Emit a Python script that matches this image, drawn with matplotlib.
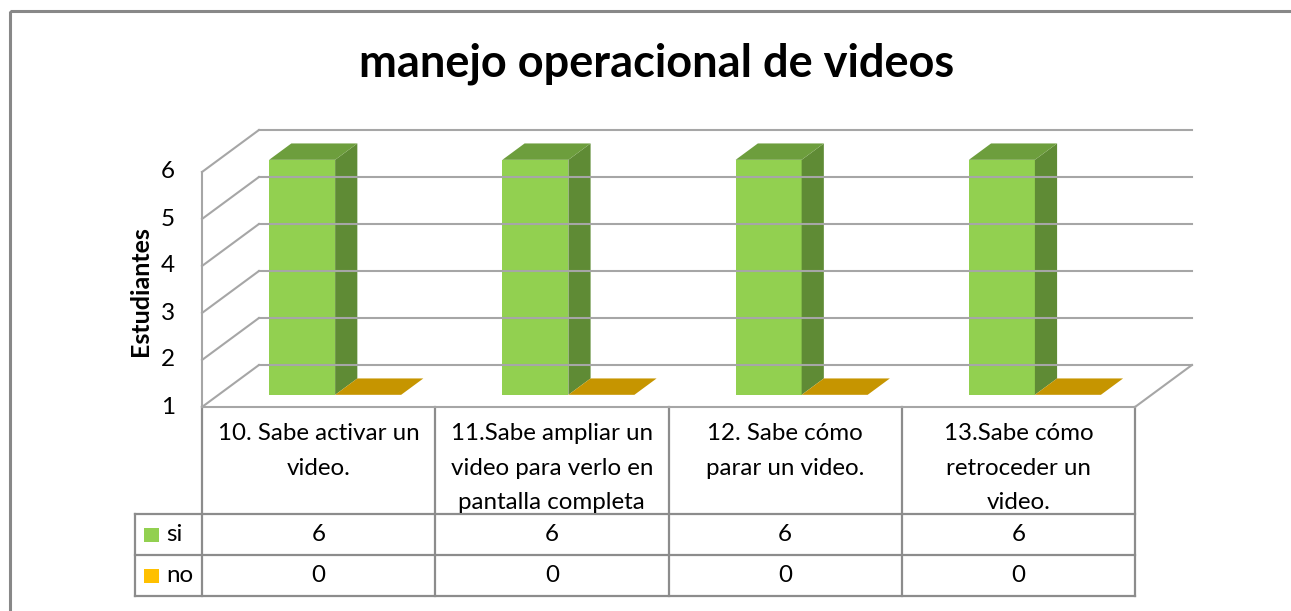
import numpy as np
import matplotlib.pyplot as plt
from matplotlib.patches import Polygon, Rectangle

# data
categories = ["10. Sabe activar un\nvideo.",
              "11.Sabe ampliar un\nvideo para verlo en\npantalla completa",
              "12. Sabe cómo\nparar un video.",
              "13.Sabe cómo\nretroceder un\nvideo."]
series = ["si", "no"]
si_vals = [6, 6, 6, 6]
no_vals = [0, 0, 0, 0]
yticks = [1, 2, 3, 4, 5, 6]

plt.rcParams['font.family'] = ['Lato', 'DejaVu Sans']

W_PX, H_PX = 1291, 611
fig = plt.figure(figsize=(W_PX/100, H_PX/100), dpi=100)
fig.patch.set_facecolor('white')

# overlay in pixel coords for frame / table
bg = fig.add_axes([0, 0, 1, 1])
bg.set_xlim(0, W_PX)
bg.set_ylim(H_PX, 0)
bg.axis('off')

# plot area (front plane) in data coords
x_l, x_r, y_t, y_b = 202, 1135, 172, 407
ax = fig.add_axes([x_l/W_PX, 1 - y_b/H_PX, (x_r-x_l)/W_PX, (y_b-y_t)/H_PX])
ax.set_xlim(0, len(categories))
ax.set_ylim(yticks[0], yticks[-1])
ax.axis('off')
ax.patch.set_alpha(0)

ymin = yticks[0]
DX = 57/233.5    # depth offset (category units)
DY = 42/47       # depth offset (value units)
grid_c = '#A6A6A6'

def P(x, v, d):
    return (x + d*DX, v + d*DY)

ncat = len(categories)
# back wall gridlines and left wall diagonals
for v in yticks:
    a, b = P(0, v, 1), P(ncat, v, 1)
    ax.plot([a[0], b[0]], [a[1], b[1]], color=grid_c, lw=1.5, clip_on=False)
    c = P(0, v, 0)
    ax.plot([c[0], a[0]], [c[1], a[1]], color=grid_c, lw=1.5, clip_on=False)
# left wall front edge, floor
ax.plot([0, 0], [ymin, yticks[-1]], color=grid_c, lw=1.5, clip_on=False)
f1, f2 = P(ncat, ymin, 0), P(ncat, ymin, 1)
ax.plot([0, ncat], [ymin, ymin], color=grid_c, lw=1.5, clip_on=False)
ax.plot([f1[0], f2[0]], [f1[1], f2[1]], color=grid_c, lw=1.5, clip_on=False)

# bars
W = 0.283
z0, z1 = 0.29, 0.68
faces = {"si": ('#92D050', '#5F8B35', '#6D9E3D'),
         "no": ('#FFC000', '#B08400', '#C69500')}
for i in range(ncat):
    for s, (name, vals) in enumerate(zip(series, [si_vals, no_vals])):
        x0 = i + 0.5 - W + s*W
        x1 = x0 + W
        vt = max(vals[i], ymin)
        front_c, side_c, top_c = faces[name]
        if vt > ymin:
            ax.add_patch(Polygon([P(x0, ymin, z0), P(x1, ymin, z0), P(x1, vt, z0), P(x0, vt, z0)],
                                 closed=True, fc=front_c, ec='none', clip_on=False))
            ax.add_patch(Polygon([P(x1, ymin, z0), P(x1, ymin, z1), P(x1, vt, z1), P(x1, vt, z0)],
                                 closed=True, fc=side_c, ec='none', clip_on=False))
        ax.add_patch(Polygon([P(x0, vt, z0), P(x1, vt, z0), P(x1, vt, z1), P(x0, vt, z1)],
                             closed=True, fc=top_c, ec='none', clip_on=False))

# y tick labels
for v in yticks:
    ax.text(-0.145, v, str(v), ha='center', va='center', fontsize=17.5, color='black', clip_on=False)
bg.text(141, 291, "Estudiantes", rotation=90, ha='center', va='center',
        fontsize=18, fontweight='bold')

# title
bg.text(657, 64, "manejo operacional de videos", ha='center', va='center',
        fontsize=32.5, fontweight='bold')

# outer frame
bg.add_patch(Rectangle((10, 11), 1400, 700, fill=False, ec='#888888', lw=2.2))

# data table
tc = '#8C8C8C'
cols = np.linspace(x_l, x_r, ncat + 1)
r_head, r1, r2, r3 = 407, 514, 555, 596
for x in cols:
    bg.plot([x, x], [r_head, r3], color=tc, lw=1.6)
bg.plot([135, 135], [r1, r3], color=tc, lw=1.6)
for y in [r1, r2, r3]:
    bg.plot([135, x_r], [y, y], color=tc, lw=1.6)

for i, cat in enumerate(categories):
    cx = (cols[i] + cols[i+1]) / 2
    bg.text(cx, 423, cat, ha='center', va='top', fontsize=17.4, linespacing=1.8)
    bg.text(cx, (r1 + r2)/2, str(si_vals[i]), ha='center', va='center', fontsize=17.4)
    bg.text(cx, (r2 + r3)/2, str(no_vals[i]), ha='center', va='center', fontsize=17.4)

keys = ['#92D050', '#FFC000']
for k, (name, ry) in enumerate(zip(series, [(r1 + r2)/2, (r2 + r3)/2])):
    bg.add_patch(Rectangle((144, ry - 7), 15, 14, fc=keys[k], ec='none'))
    bg.text(166, ry, name, ha='left', va='center', fontsize=17.4)

fig.savefig('out.png', dpi=100)
